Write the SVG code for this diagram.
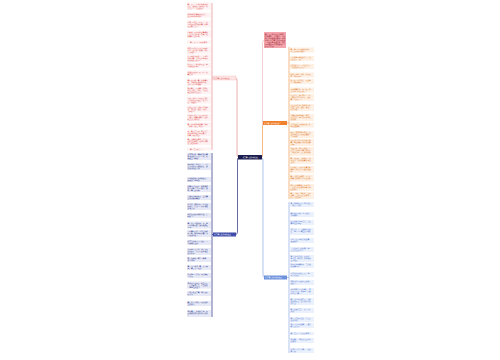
<svg xmlns="http://www.w3.org/2000/svg" width="500" height="360" viewBox="0 0 500 360">
<style>
text{font-family:"Noto Sans CJK SC","Noto Sans",sans-serif;font-size:1.7px}
.pc rect{fill:#fff2f2}.pc text{fill:#e25555}
.nc rect{fill:#e7e9f6}.nc text{fill:#2f3b8e}
.oc rect{fill:#fef0e3}.oc text{fill:#e27b2c}
.bc rect{fill:#eaf0fc}.bc text{fill:#5b7fd2}
.ln{fill:none;stroke-width:0.8}
</style>
<rect width="500" height="360" fill="#ffffff"/>
<g id="connectors">
<path class="ln" stroke="#e99a9a" d="M238,157 Q237,157 237,154 V81 Q237,78 236,78"/>
<path class="ln" stroke="#3d438f" d="M238,158 Q237.5,158 237.5,161 V231 Q237.5,234.5 236,234.5"/>
<path class="ln" stroke="#f2a869" d="M262,157 Q262.5,157 262.5,154 V126 Q262.5,123 263,123"/>
<path class="ln" stroke="#f3c4c4" d="M262.5,126 V44 Q262.5,40 264,40"/>
<path class="ln" stroke="#9db6ea" d="M262,158 Q263,158 263,161 V274 Q263,277.5 264,277.5"/>
<path class="ln" stroke="#e99a9a" d="M213,78 H212 M212,3 V150"/>
<path class="ln" stroke="#3d438f" d="M213,234.5 H212 M212,153 V317"/>
<path class="ln" stroke="#f2a869" d="M287,123 H289 M289,47 V199"/>
<path class="ln" stroke="#9db6ea" d="M287,277.5 H289 M289,202 V353"/>
</g>
<g id="center"><rect x="238" y="155" width="24" height="4.5" fill="#1c1d4f"/><text x="250" y="158" text-anchor="middle" fill="#ffffff" font-size="2">关于春天的作文精选</text></g>
<g id="b1"><rect x="213" y="76" width="23" height="4" fill="#fde6e6" stroke="#f0a0a0" stroke-width="0.3"/><text x="214" y="78.7" fill="#e04848">关于春天的作文精选一</text></g>
<g id="b2"><rect x="213" y="232.5" width="23" height="4" fill="#3f4cab"/><text x="214" y="235.2" fill="#ffffff">关于春天的作文精选二</text></g>
<g id="b3"><rect x="263" y="121" width="24" height="4" fill="#f0802c"/><text x="264" y="123.7" fill="#ffffff">关于春天的作文精选三</text></g>
<g id="b4"><rect x="264" y="275.5" width="23" height="4" fill="#6b90dc"/><text x="265" y="278.2" fill="#ffffff">关于春天的作文精选四</text></g>
<g id="note"><rect x="264" y="32" width="22" height="16" fill="#f2a3ab"/><text fill="#9e1f2e" x="265" y="34.5"><tspan x="265">春天是一年中最美的季节，</tspan><tspan x="265" dy="2">万物复苏，百花盛开，到处</tspan><tspan x="265" dy="2">都是生机勃勃的景象。本文</tspan><tspan x="265" dy="2">整理了关于春天的作文精选</tspan><tspan x="265" dy="2">，欢迎大家阅读参考，希望</tspan><tspan x="265" dy="2">对大家的写作有所帮助。</tspan><tspan x="265" dy="2">快来看看吧。</tspan></text></g>

<g class="pc">
<g id="p1"><rect x="187" y="2.5" width="24" height="7"/><text x="187.5" y="4.7"><tspan x="187.5">春天来了，小草从地里探出</tspan><tspan x="187.5" dy="2">头来，嫩嫩的，绿绿的。花</tspan><tspan x="187.5" dy="2">儿也开了，红的黄的。</tspan></text></g>
<g id="p2"><rect x="187" y="12.5" width="24" height="5"/><text x="187.5" y="14.7"><tspan x="187.5">柳树姑娘梳着长长的辫子，</tspan><tspan x="187.5" dy="2">在微风中轻轻摇摆。</tspan></text></g>
<g id="p3"><rect x="187" y="20.5" width="24" height="7"/><text x="187.5" y="22.7"><tspan x="187.5">小燕子从南方飞回来了，在</tspan><tspan x="187.5" dy="2">空中叽叽喳喳地叫着，好像</tspan><tspan x="187.5" dy="2">在说春天真美。</tspan></text></g>
<g id="p4"><rect x="187" y="30.5" width="24" height="7"/><text x="187.5" y="32.7"><tspan x="187.5">田野里，农民伯伯忙着播种</tspan><tspan x="187.5" dy="2">，他们脸上露出了笑容，期</tspan><tspan x="187.5" dy="2">待着秋天的丰收。</tspan></text></g>
<g id="p5"><rect x="187" y="40.5" width="24" height="3"/><text x="190" y="42.7">春天是一个美丽的季节。</text></g>
<g id="p6"><rect x="187" y="46.5" width="24" height="7"/><text x="187.5" y="48.7"><tspan x="187.5">我和小伙伴们来到公园里放</tspan><tspan x="187.5" dy="2">风筝，风筝越飞越高，我们</tspan><tspan x="187.5" dy="2">开心地笑了。</tspan></text></g>
<g id="p7"><rect x="187" y="54.5" width="24" height="7"/><text x="187.5" y="56.7"><tspan x="187.5">小河里的冰融化了，河水哗</tspan><tspan x="187.5" dy="2">哗地流着，小鱼在水里自由</tspan><tspan x="187.5" dy="2">自在地游来游去。</tspan></text></g>
<g id="p8"><rect x="187" y="63" width="24" height="5"/><text x="187.5" y="65.2"><tspan x="187.5">桃花开了，粉红粉红的，像</tspan><tspan x="187.5" dy="2">小姑娘的脸蛋。</tspan></text></g>
<g id="p9"><rect x="187" y="70.5" width="24" height="5"/><text x="187.5" y="72.7"><tspan x="187.5">蜜蜂在花丛中飞来飞去，忙</tspan><tspan x="187.5" dy="2">着采蜜。</tspan></text></g>
<g id="p10"><rect x="187" y="78.5" width="24" height="7"/><text x="187.5" y="80.7"><tspan x="187.5">春雨沙沙地下着，滋润着大</tspan><tspan x="187.5" dy="2">地，万物都在悄悄地生长，</tspan><tspan x="187.5" dy="2">到处一片生机勃勃。</tspan></text></g>
<g id="p11"><rect x="187" y="87" width="24" height="7"/><text x="187.5" y="89.2"><tspan x="187.5">我爱春天，因为春天给我们</tspan><tspan x="187.5" dy="2">带来了希望，带来了美好的</tspan><tspan x="187.5" dy="2">景色和快乐的心情。</tspan></text></g>
<g id="p12"><rect x="187" y="96.5" width="24" height="7"/><text x="187.5" y="98.7"><tspan x="187.5">早晨，太阳公公露出了笑脸</tspan><tspan x="187.5" dy="2">，阳光洒在大地上，暖洋洋</tspan><tspan x="187.5" dy="2">的，舒服极了。</tspan></text></g>
<g id="p13"><rect x="187" y="105.5" width="24" height="7"/><text x="187.5" y="107.7"><tspan x="187.5">山坡上开满了各种各样的野</tspan><tspan x="187.5" dy="2">花，有红的、紫的、白的，</tspan><tspan x="187.5" dy="2">美丽极了。</tspan></text></g>
<g id="p14"><rect x="187" y="114" width="24" height="7"/><text x="187.5" y="116.2"><tspan x="187.5">小朋友们脱下了厚厚的冬装</tspan><tspan x="187.5" dy="2">，换上了漂亮的春装，在草</tspan><tspan x="187.5" dy="2">地上尽情地玩耍。</tspan></text></g>
<g id="p15"><rect x="187" y="122.5" width="24" height="5"/><text x="187.5" y="124.7"><tspan x="187.5">春天的风轻轻地吹着，吹绿</tspan><tspan x="187.5" dy="2">了柳枝，吹红了桃花。</tspan></text></g>
<g id="p16"><rect x="187" y="129.5" width="24" height="7"/><text x="187.5" y="131.7"><tspan x="187.5">啊，春天真美啊！我要用手</tspan><tspan x="187.5" dy="2">中的画笔画出美丽的春天，</tspan><tspan x="187.5" dy="2">把春天留在纸上。</tspan></text></g>
<g id="p17"><rect x="187" y="138" width="24" height="7"/><text x="187.5" y="140.2"><tspan x="187.5">春天是播种的季节，也是充</tspan><tspan x="187.5" dy="2">满希望的季节，让我们珍惜</tspan><tspan x="187.5" dy="2">这美好的时光。</tspan></text></g>
<g id="p18"><rect x="187" y="147.5" width="24" height="3"/><text x="190" y="149.7">春天真是太美了！</text></g>
</g>

<g class="nc">
<g id="n1"><rect x="187" y="153" width="24" height="7"/><text x="187.5" y="155.2"><tspan x="187.5">冬爷爷刚走，春姑娘就迈着</tspan><tspan x="187.5" dy="2">轻盈的脚步来到了人间，大</tspan><tspan x="187.5" dy="2">地换上了新衣。</tspan></text></g>
<g id="n2"><rect x="187" y="163" width="24" height="7"/><text x="187.5" y="165.2"><tspan x="187.5">校园里的玉兰花开了，一朵</tspan><tspan x="187.5" dy="2">朵洁白的花儿挂满枝头，散</tspan><tspan x="187.5" dy="2">发出淡淡的清香。</tspan></text></g>
<g id="n3"><rect x="187" y="177" width="24" height="5"/><text x="187.5" y="179.2"><tspan x="187.5">小草偷偷地从土里钻出来，</tspan><tspan x="187.5" dy="2">嫩嫩的，绿绿的。</tspan></text></g>
<g id="n4"><rect x="187" y="185" width="24" height="7"/><text x="187.5" y="187.2"><tspan x="187.5">迎春花开得最早，金黄金黄</tspan><tspan x="187.5" dy="2">的小花像一个个小喇叭，吹</tspan><tspan x="187.5" dy="2">响了春天的号角。</tspan></text></g>
<g id="n5"><rect x="187" y="195" width="24" height="5"/><text x="187.5" y="197.2"><tspan x="187.5">青蛙从冬眠中醒来，在池塘</tspan><tspan x="187.5" dy="2">边呱呱地唱着歌。</tspan></text></g>
<g id="n6"><rect x="187" y="203" width="24" height="7"/><text x="187.5" y="205.2"><tspan x="187.5">放学后，我和妈妈一起去郊</tspan><tspan x="187.5" dy="2">外踏青，看到了一大片金黄</tspan><tspan x="187.5" dy="2">的油菜花。</tspan></text></g>
<g id="n7"><rect x="187" y="213" width="24" height="5"/><text x="187.5" y="215.2"><tspan x="187.5">蝴蝶在花丛中翩翩起舞，美</tspan><tspan x="187.5" dy="2">丽极了。</tspan></text></g>
<g id="n8"><rect x="187" y="221.5" width="24" height="7"/><text x="187.5" y="223.7"><tspan x="187.5">春天的天空格外蓝，白云像</tspan><tspan x="187.5" dy="2">一团团棉花糖，悠闲地飘在</tspan><tspan x="187.5" dy="2">空中。</tspan></text></g>
<g id="n9"><rect x="187" y="230" width="24" height="7"/><text x="187.5" y="232.2"><tspan x="187.5">一场春雨过后，空气变得格</tspan><tspan x="187.5" dy="2">外清新，树叶绿得发亮，花</tspan><tspan x="187.5" dy="2">儿更加鲜艳了。</tspan></text></g>
<g id="n10"><rect x="187" y="240" width="24" height="5"/><text x="187.5" y="242.2"><tspan x="187.5">竹笋也从地下冒了出来，一</tspan><tspan x="187.5" dy="2">个劲地往上长。</tspan></text></g>
<g id="n11"><rect x="187" y="248" width="24" height="7"/><text x="187.5" y="250.2"><tspan x="187.5">公园里人来人往，老人们在</tspan><tspan x="187.5" dy="2">打太极拳，孩子们在草地上</tspan><tspan x="187.5" dy="2">追逐嬉戏。</tspan></text></g>
<g id="n12"><rect x="187" y="257" width="24" height="5"/><text x="187.5" y="259.2"><tspan x="187.5">燕子在屋檐下筑起了新家，</tspan><tspan x="187.5" dy="2">忙个不停。</tspan></text></g>
<g id="n13"><rect x="187" y="265" width="24" height="5"/><text x="187.5" y="267.2"><tspan x="187.5">春天是一首诗，春天是一幅</tspan><tspan x="187.5" dy="2">画，春天是一支歌。</tspan></text></g>
<g id="n14"><rect x="187" y="273" width="24" height="5"/><text x="187.5" y="275.2"><tspan x="187.5">梨花像雪一样白，杏花像霞</tspan><tspan x="187.5" dy="2">一样红。</tspan></text></g>
<g id="n15"><rect x="187" y="281.5" width="24" height="7"/><text x="187.5" y="283.7"><tspan x="187.5">我站在小山坡上，眺望远方</tspan><tspan x="187.5" dy="2">，只见麦苗青青，一望无际</tspan><tspan x="187.5" dy="2">，像绿色的海洋。</tspan></text></g>
<g id="n16"><rect x="187" y="291" width="24" height="5"/><text x="187.5" y="293.2"><tspan x="187.5">一年之计在于春，我们要好</tspan><tspan x="187.5" dy="2">好学习。</tspan></text></g>
<g id="n17"><rect x="187" y="301" width="24" height="5"/><text x="187.5" y="303.2"><tspan x="187.5">春天给人们带来了无限的希</tspan><tspan x="187.5" dy="2">望和快乐。</tspan></text></g>
<g id="n18"><rect x="187" y="310" width="24" height="7"/><text x="187.5" y="312.2"><tspan x="187.5">我爱春天，爱她的美丽，更</tspan><tspan x="187.5" dy="2">爱她带给我们的生机与活力</tspan><tspan x="187.5" dy="2">。</tspan></text></g>
</g>

<g class="oc">
<g id="o1"><rect x="290" y="47.5" width="24" height="5"/><text x="290.5" y="49.7"><tspan x="290.5">春天像一个刚落地的娃娃，</tspan><tspan x="290.5" dy="2">从头到脚都是新的。</tspan></text></g>
<g id="o2"><rect x="290" y="56" width="24" height="5"/><text x="290.5" y="58.2"><tspan x="290.5">一切都像刚睡醒的样子，欣</tspan><tspan x="290.5" dy="2">欣然张开了眼。</tspan></text></g>
<g id="o3"><rect x="290" y="64" width="24" height="5"/><text x="290.5" y="66.2"><tspan x="290.5">山朗润起来了，水涨起来了</tspan><tspan x="290.5" dy="2">，太阳的脸红起来了。</tspan></text></g>
<g id="o4"><rect x="290" y="72.5" width="24" height="5"/><text x="290.5" y="74.7"><tspan x="290.5">桃树、杏树、梨树，你不让</tspan><tspan x="290.5" dy="2">我，我不让你。</tspan></text></g>
<g id="o5"><rect x="290" y="79" width="24" height="5"/><text x="290.5" y="81.2"><tspan x="290.5">都开满了花赶趟儿，红的像</tspan><tspan x="290.5" dy="2">火，粉的像霞。</tspan></text></g>
<g id="o6"><rect x="290" y="87.5" width="24" height="5"/><text x="290.5" y="89.7"><tspan x="290.5">花里带着甜味，闭了眼，树</tspan><tspan x="290.5" dy="2">上仿佛已经满是果子。</tspan></text></g>
<g id="o7"><rect x="290" y="94" width="24" height="7"/><text x="290.5" y="96.2"><tspan x="290.5">早上起床，推开窗户，一股</tspan><tspan x="290.5" dy="2">清新的空气扑面而来，原来</tspan><tspan x="290.5" dy="2">春天已经来了。</tspan></text></g>
<g id="o8"><rect x="290" y="104" width="24" height="7"/><text x="290.5" y="106.2"><tspan x="290.5">小区的花坛里，郁金香开得</tspan><tspan x="290.5" dy="2">正艳，红的、黄的、紫的，</tspan><tspan x="290.5" dy="2">争奇斗艳。</tspan></text></g>
<g id="o9"><rect x="290" y="114" width="24" height="7"/><text x="290.5" y="116.2"><tspan x="290.5">池塘边的柳树抽出了新芽，</tspan><tspan x="290.5" dy="2">远远望去，像一团团淡绿色</tspan><tspan x="290.5" dy="2">的烟雾。</tspan></text></g>
<g id="o10"><rect x="290" y="122.5" width="24" height="5"/><text x="290.5" y="124.7"><tspan x="290.5">小鸟在枝头欢快地歌唱，好</tspan><tspan x="290.5" dy="2">像在迎接春天。</tspan></text></g>
<g id="o11"><rect x="290" y="131" width="24" height="7"/><text x="290.5" y="133.2"><tspan x="290.5">周末，爸爸带我去爬山，山</tspan><tspan x="290.5" dy="2">上的映山红开得漫山遍野，</tspan><tspan x="290.5" dy="2">美不胜收。</tspan></text></g>
<g id="o12"><rect x="290" y="139" width="24" height="7"/><text x="290.5" y="141.2"><tspan x="290.5">山间的小溪叮叮咚咚地流淌</tspan><tspan x="290.5" dy="2">着，像在弹奏一首欢快的春</tspan><tspan x="290.5" dy="2">之曲。</tspan></text></g>
<g id="o13"><rect x="290" y="147" width="24" height="9"/><text x="290.5" y="149.2"><tspan x="290.5">站在山顶，我深深地吸了一</tspan><tspan x="290.5" dy="2">口气，仿佛整个春天都装进</tspan><tspan x="290.5" dy="2">了我的心里，心情格外舒畅</tspan><tspan x="290.5" dy="2">。</tspan></text></g>
<g id="o14"><rect x="290" y="157" width="24" height="7"/><text x="290.5" y="159.2"><tspan x="290.5">春天的夜晚，月光如水，微</tspan><tspan x="290.5" dy="2">风习习，到处弥漫着花草的</tspan><tspan x="290.5" dy="2">芬芳。</tspan></text></g>
<g id="o15"><rect x="290" y="166" width="24" height="7"/><text x="290.5" y="168.2"><tspan x="290.5">田间地头，农民们忙着耕地</tspan><tspan x="290.5" dy="2">播种，处处是一派繁忙的景</tspan><tspan x="290.5" dy="2">象。</tspan></text></g>
<g id="o16"><rect x="290" y="174.5" width="24" height="7"/><text x="290.5" y="176.7"><tspan x="290.5">春天是希望的季节，孩子们</tspan><tspan x="290.5" dy="2">像春天的幼苗一样茁壮成长</tspan><tspan x="290.5" dy="2">。</tspan></text></g>
<g id="o17"><rect x="290" y="184" width="24" height="7"/><text x="290.5" y="186.2"><tspan x="290.5">我们要珍惜春光，努力学习</tspan><tspan x="290.5" dy="2">，在这美好的季节里播下理</tspan><tspan x="290.5" dy="2">想的种子。</tspan></text></g>
<g id="o18"><rect x="290" y="192" width="24" height="7"/><text x="290.5" y="194.2"><tspan x="290.5">春天，你好！我爱你，美丽</tspan><tspan x="290.5" dy="2">的春天，你是最美的季节，</tspan><tspan x="290.5" dy="2">让人流连忘返。</tspan></text></g>
</g>

<g class="bc">
<g id="q1"><rect x="290" y="202" width="24" height="5"/><text x="290.5" y="204.2"><tspan x="290.5">春天悄悄地来到了我们身边</tspan><tspan x="290.5" dy="2">，带来了温暖。</tspan></text></g>
<g id="q2"><rect x="290" y="212" width="24" height="5"/><text x="290.5" y="214.2"><tspan x="290.5">春风吹过大地，冰雪融化，</tspan><tspan x="290.5" dy="2">万物复苏。</tspan></text></g>
<g id="q3"><rect x="290" y="220" width="24" height="5"/><text x="290.5" y="222.2"><tspan x="290.5">路边的野花星星点点，点缀</tspan><tspan x="290.5" dy="2">着绿色的草地。</tspan></text></g>
<g id="q4"><rect x="290" y="228" width="24" height="7"/><text x="290.5" y="230.2"><tspan x="290.5">海棠花开了，一簇簇挤在枝</tspan><tspan x="290.5" dy="2">头，像一个个害羞的小姑娘</tspan><tspan x="290.5" dy="2">。</tspan></text></g>
<g id="q5"><rect x="290" y="238" width="24" height="5"/><text x="290.5" y="240.2"><tspan x="290.5">小鸭子在河里快乐地游着，</tspan><tspan x="290.5" dy="2">嘎嘎地叫。</tspan></text></g>
<g id="q6"><rect x="290" y="247" width="24" height="5"/><text x="290.5" y="249.2"><tspan x="290.5">天上的风筝飞得很高，像一</tspan><tspan x="290.5" dy="2">只只彩色的鸟儿。</tspan></text></g>
<g id="q7"><rect x="290" y="255" width="24" height="7"/><text x="290.5" y="257.2"><tspan x="290.5">春天的雨细细的，密密的，</tspan><tspan x="290.5" dy="2">像牛毛，像花针，轻轻地落</tspan><tspan x="290.5" dy="2">在大地上。</tspan></text></g>
<g id="q8"><rect x="290" y="263" width="24" height="5"/><text x="290.5" y="265.2"><tspan x="290.5">树木们伸展着枝条，贪婪地</tspan><tspan x="290.5" dy="2">吮吸着雨水。</tspan></text></g>
<g id="q9"><rect x="290" y="272" width="24" height="5"/><text x="290.5" y="274.2"><tspan x="290.5">雨后的彩虹挂在天边，像一</tspan><tspan x="290.5" dy="2">座七彩的桥。</tspan></text></g>
<g id="q10"><rect x="290" y="280" width="24" height="5"/><text x="290.5" y="282.2"><tspan x="290.5">我和同学们在操场上跳绳、</tspan><tspan x="290.5" dy="2">踢毽子。</tspan></text></g>
<g id="q11"><rect x="290" y="288" width="24" height="7"/><text x="290.5" y="290.2"><tspan x="290.5">老师带我们去寻找春天，我</tspan><tspan x="290.5" dy="2">们在小河边、树林里、田野</tspan><tspan x="290.5" dy="2">中找到了春天。</tspan></text></g>
<g id="q12"><rect x="290" y="298" width="24" height="7"/><text x="290.5" y="300.2"><tspan x="290.5">春天在小草的嫩芽上，在柳</tspan><tspan x="290.5" dy="2">树的枝条上，在小朋友们的</tspan><tspan x="290.5" dy="2">笑脸上。</tspan></text></g>
<g id="q13"><rect x="290" y="308" width="24" height="5"/><text x="290.5" y="310.2"><tspan x="290.5">春天的景色真美，让人心旷</tspan><tspan x="290.5" dy="2">神怡。</tspan></text></g>
<g id="q14"><rect x="290" y="317" width="24" height="5"/><text x="290.5" y="319.2"><tspan x="290.5">春天是五颜六色的，也是充</tspan><tspan x="290.5" dy="2">满活力的。</tspan></text></g>
<g id="q15"><rect x="290" y="323" width="24" height="5"/><text x="290.5" y="325.2"><tspan x="290.5">我们一起去拥抱春天，感受</tspan><tspan x="290.5" dy="2">春天的美好。</tspan></text></g>
<g id="q16"><rect x="290" y="332" width="24" height="3"/><text x="290.5" y="334.2">春天真是一个美好的季节。</text></g>
<g id="q17"><rect x="290" y="338" width="24" height="5"/><text x="290.5" y="340.2"><tspan x="290.5">我爱春天，我爱这充满生机</tspan><tspan x="290.5" dy="2">的季节。</tspan></text></g>
<g id="q18"><rect x="290" y="348" width="24" height="5"/><text x="290.5" y="350.2"><tspan x="290.5">让我们一起赞美春天，歌唱</tspan><tspan x="290.5" dy="2">春天吧！</tspan></text></g>
</g>
</svg>
